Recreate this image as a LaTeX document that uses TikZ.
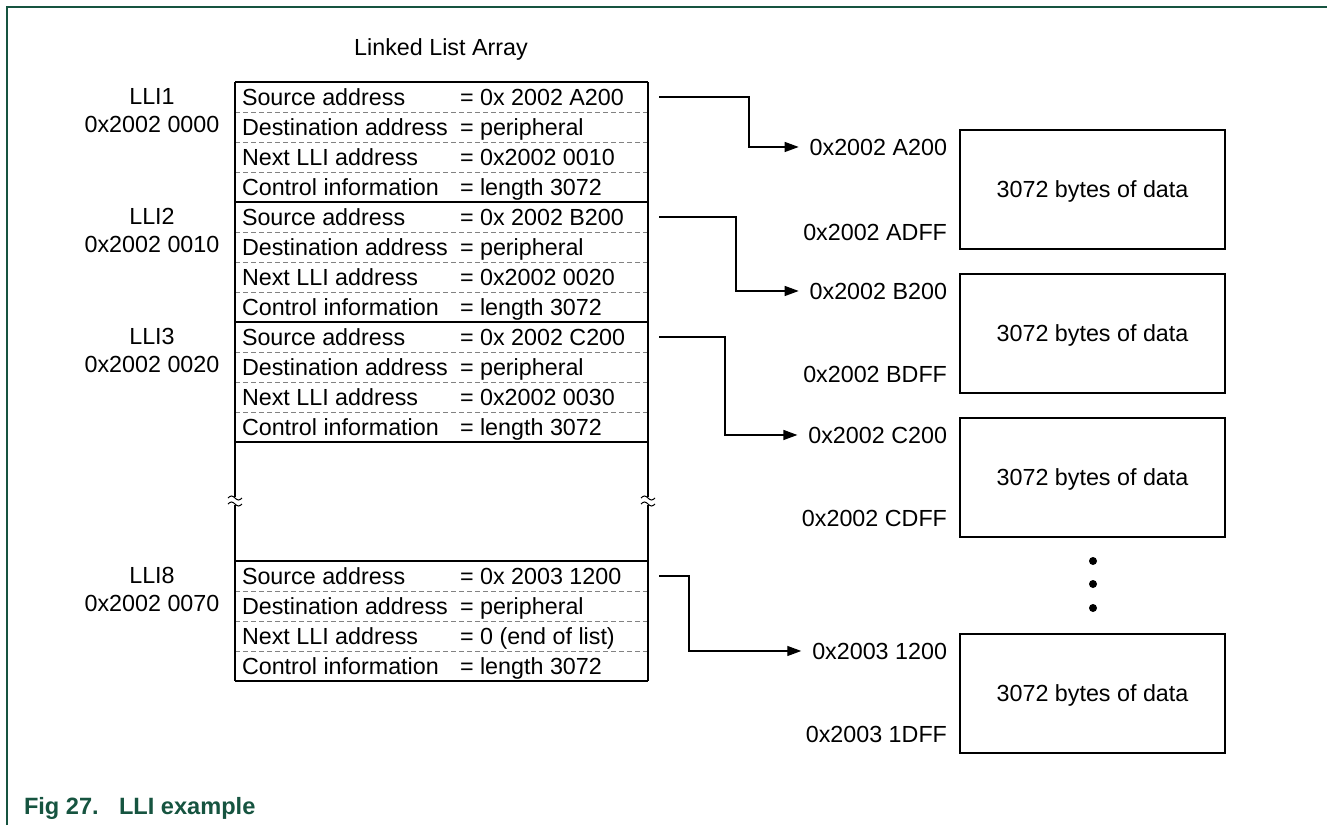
\documentclass[tikz,border=0pt]{standalone}
\usepackage{fontspec}
\setmainfont{Liberation Sans}
\usetikzlibrary{arrows.meta}
\definecolor{nxpgreen}{RGB}{22,84,64}
\definecolor{dashgray}{RGB}{130,130,130}

\newcommand{\LLIblock}[6]{%
  \node[lbl] (lli#2) at (152,{#1+22}) {#3};
  \node[lbl] (lliaddr#2) at (152,{#1+50}) {#4};
  \node[rowbox,anchor=north west] (src#2) at (235,#1) {};
  \node[rowbox,anchor=north west] (dst#2) at (235,{#1+30}) {};
  \node[rowbox,anchor=north west] (nxt#2) at (235,{#1+60}) {};
  \node[rowbox,anchor=north west] (ctl#2) at (235,{#1+90}) {};
  \draw[tbl] (src#2.north west) -- (src#2.north east);
  \draw[dashsep] (dst#2.north west) -- (dst#2.north east);
  \draw[dashsep] (nxt#2.north west) -- (nxt#2.north east);
  \draw[dashsep] (ctl#2.north west) -- (ctl#2.north east);
  \node[celltxt] (srck#2) at ([xshift=7pt,yshift=-8pt]src#2.west) {Source address};
  \node[celltxt] (srcv#2) at ([xshift=225pt,yshift=-8pt]src#2.west) {= #5};
  \node[celltxt] (dstk#2) at ([xshift=7pt,yshift=-8pt]dst#2.west) {Destination address};
  \node[celltxt] (dstv#2) at ([xshift=225pt,yshift=-8pt]dst#2.west) {= peripheral};
  \node[celltxt] (nxtk#2) at ([xshift=7pt,yshift=-8pt]nxt#2.west) {Next LLI address};
  \node[celltxt] (nxtv#2) at ([xshift=225pt,yshift=-8pt]nxt#2.west) {= #6};
  \node[celltxt] (ctlk#2) at ([xshift=7pt,yshift=-8pt]ctl#2.west) {Control information};
  \node[celltxt] (ctlv#2) at ([xshift=225pt,yshift=-8pt]ctl#2.west) {= length 3072};
}

\newcommand{\breakmark}[2]{%
  \draw[tbl,line width=1pt] ({#1-7},{#2-3}) sin ({#1-3.5},{#2-5}) cos (#1,{#2-3}) sin ({#1+3.5},{#2-1}) cos ({#1+7},{#2-3});
  \draw[tbl,line width=1pt] ({#1-7},{#2+3}) sin ({#1-3.5},{#2+1}) cos (#1,{#2+3}) sin ({#1+3.5},{#2+5}) cos ({#1+7},{#2+3});
}

\begin{document}
\begin{tikzpicture}[x=1pt,y=-1pt,
  every node/.style={font=\fontsize{23.3pt}{28pt}\selectfont, inner sep=0pt, outer sep=0pt},
  lbl/.style={anchor=base},
  addr/.style={anchor=base east},
  celltxt/.style={anchor=base west},
  rowbox/.style={rectangle, minimum width=413pt, minimum height=30pt},
  tbl/.style={draw=black, line width=2pt},
  dashsep/.style={draw=dashgray, line width=1pt, dash pattern=on 5pt off 3pt},
  databox/.style={draw=black, line width=2pt, rectangle, minimum width=265pt, minimum height=119pt},
  datatxt/.style={anchor=base},
  conn/.style={draw=black, line width=1.3pt, -{Triangle[length=14pt,width=10pt]}},
  frame/.style={draw=nxpgreen, line width=2pt},
  caption/.style={font=\fontsize{23.6pt}{28pt}\selectfont\bfseries, text=nxpgreen, anchor=base west},
  dot/.style={circle, fill=black, minimum size=8pt}
]
\useasboundingbox (0,0) rectangle (1327,825);

% frame
\draw[frame] (7,825) -- (7,7) -- (1327,7);

% title
\node[lbl] (title) at (441,55) {Linked List Array};

% LLI blocks
\LLIblock{82}{1}{LLI1}{0x2002 0000}{0x 2002 A200}{0x2002 0010}
\LLIblock{202}{2}{LLI2}{0x2002 0010}{0x 2002 B200}{0x2002 0020}
\LLIblock{322}{3}{LLI3}{0x2002 0020}{0x 2002 C200}{0x2002 0030}
\LLIblock{561}{8}{LLI8}{0x2002 0070}{0x 2003 1200}{0 (end of list)}

% closing lines and outer verticals with break
\draw[tbl] (ctl3.south west) -- (ctl3.south east);
\draw[tbl] (ctl8.south west) -- (ctl8.south east);
\coordinate (brkL) at (235,501);
\coordinate (brkR) at (648,501);
\draw[tbl] (src1.north west) -- ([yshift=4pt]brkL);
\draw[tbl] ([yshift=-4pt]brkL) -- (ctl8.south west);
\draw[tbl] (src1.north east) -- ([yshift=4pt]brkR);
\draw[tbl] ([yshift=-4pt]brkR) -- (ctl8.south east);
\breakmark{235}{501}
\breakmark{648}{501}

% data boxes
\node[databox,anchor=north west] (d1) at (960,130) {};
\node[databox,anchor=north west] (d2) at (960,274) {};
\node[databox,anchor=north west] (d3) at (960,418) {};
\node[databox,anchor=north west] (d4) at (960,634) {};
\node[datatxt] (t1) at ([yshift=-8pt]d1.center) {3072 bytes of data};
\node[datatxt] (t2) at ([yshift=-8pt]d2.center) {3072 bytes of data};
\node[datatxt] (t3) at ([yshift=-8pt]d3.center) {3072 bytes of data};
\node[datatxt] (t4) at ([yshift=-8pt]d4.center) {3072 bytes of data};

% address labels
\node[addr] (a1) at (947,155) {0x2002 A200};
\node[addr] (e1) at (947,240) {0x2002 ADFF};
\node[addr] (a2) at (947,299) {0x2002 B200};
\node[addr] (e2) at (947,382) {0x2002 BDFF};
\node[addr] (a3) at (947,443) {0x2002 C200};
\node[addr] (e3) at (947,526) {0x2002 CDFF};
\node[addr] (a4) at (947,659) {0x2003 1200};
\node[addr] (e4) at (947,742) {0x2003 1DFF};

% dots
\node[dot] (dt1) at (1093,561) {};
\node[dot] (dt2) at (1093,584) {};
\node[dot] (dt3) at (1093,608) {};

% connectors
\draw[conn] ([xshift=11pt]src1.east) -- ++(90,0) |- ([xshift=-11pt]a1.west);
\draw[conn] ([xshift=11pt]src2.east) -- ++(77,0) |- ([xshift=-11pt]a2.west);
\draw[conn] ([xshift=11pt]src3.east) -- ++(66,0) |- ([xshift=-11pt]a3.west);
\draw[conn] ([xshift=11pt]src8.east) -- ++(30,0) |- ([xshift=-11pt]a4.west);

% caption
\node[caption] (cap1) at (24,814) {Fig 27.};
\node[caption] (cap2) at (119,814) {LLI example};
\end{tikzpicture}
\end{document}
